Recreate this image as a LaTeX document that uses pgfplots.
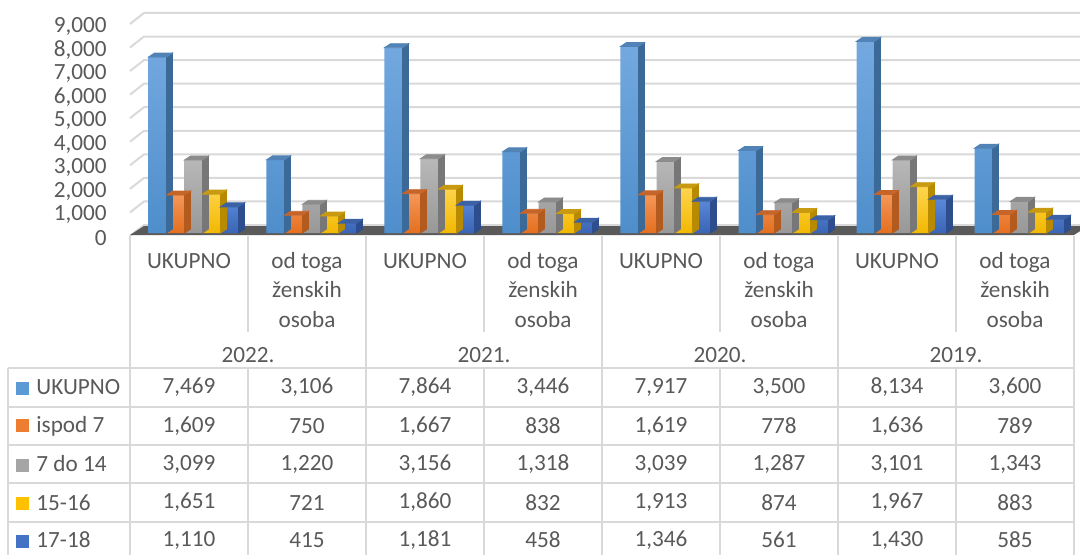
\documentclass[border=0pt]{standalone}
\usepackage{pgfplots}
\pgfplotsset{compat=1.18}
\usepackage{pgfplotstable}
\usepackage{fontspec}
\setmainfont{Carlito}
\definecolor{txt}{HTML}{595959}
\definecolor{gridc}{HTML}{D9D9D9}
\definecolor{linec}{HTML}{D9D9D9}
\definecolor{floorc}{HTML}{5A5A5A}
\definecolor{aF}{HTML}{74A9E0}\definecolor{aB}{HTML}{4E8ECB}\definecolor{aS}{HTML}{3C6A98}\definecolor{aT}{HTML}{5283B6}\definecolor{aL}{HTML}{5B9BD5}
\definecolor{bF}{HTML}{F4975A}\definecolor{bB}{HTML}{E56F1E}\definecolor{bS}{HTML}{B35A1E}\definecolor{bT}{HTML}{C6652A}\definecolor{bL}{HTML}{ED7D31}
\definecolor{cF}{HTML}{B8B8B8}\definecolor{cB}{HTML}{989898}\definecolor{cS}{HTML}{777777}\definecolor{cT}{HTML}{8C8C8C}\definecolor{cL}{HTML}{A5A5A5}
\definecolor{dF}{HTML}{FFD54F}\definecolor{dB}{HTML}{F2B800}\definecolor{dS}{HTML}{B88A00}\definecolor{dT}{HTML}{C89A12}\definecolor{dL}{HTML}{FFC000}
\definecolor{eF}{HTML}{5A88D8}\definecolor{eB}{HTML}{3A64B5}\definecolor{eS}{HTML}{2E4D8C}\definecolor{eT}{HTML}{3C62A6}\definecolor{eL}{HTML}{4472C4}

\pgfplotstableread{
x UK isp d7 d15 d17
0 7469 1609 3099 1651 1110
1 3106 750 1220 721 415
2 7864 1667 3156 1860 1181
3 3446 838 1318 832 458
4 7917 1619 3039 1913 1346
5 3500 778 1287 874 561
6 8134 1636 3101 1967 1430
7 3600 789 1343 883 585
}\data

\pgfplotsset{/pgf/number format/1000 sep={,}, /pgf/number format/assume math mode=true}
\pgfdeclareplotmark{emptymark}{}
\newdimen\hdim
\newcommand\fnt{\fontsize{11.6}{14.75}\selectfont}

% #1 column, #2 bar shift (axis units), #3 front top, #4 front bottom, #5 side, #6 top face
\newcommand\barseries[6]{%
  \addplot[ybar, bar width=0.152542, bar shift=#2, draw=none, top color=#3, bottom color=#4, forget plot]
    table[x=x, y=#1]{\data};
  \addplot[scatter, only marks, mark=emptymark, forget plot,
    visualization depends on={\thisrow{#1}\as\hval},
    scatter/@pre marker code/.code={%
      \pgfmathsetlength\hdim{0.0117778pt*\hval}%
      \fill[#5] (4.5pt,0pt) -- (7.5pt,2pt) -- (7.5pt,{2pt-\hdim}) -- (4.5pt,{-\hdim}) -- cycle;
      \fill[#6] (-4.5pt,0pt) -- (4.5pt,0pt) -- (7.5pt,2pt) -- (-1.5pt,2pt) -- cycle;
    },
    scatter/@post marker code/.code={}]
    table[x expr=\thisrow{x}+#2, y=#1]{\data};
}

% #1 column, #2 row centre (pixels)
\newcommand\tablerow[2]{%
  \addplot[draw=none, mark=none, nodes near coords, point meta=explicit,
    every node near coord/.append style={anchor=center, inner sep=0pt, text=txt, font=\fnt}]
    table[x expr=189+118*\thisrow{x}, y expr=-#2, meta=#1]{\data};
}

\begin{document}
\begin{tikzpicture}
\begin{axis}[
  at={(65pt,160.5pt)}, anchor=south west,
  x=59pt, y=0.0117778pt,
  xmin=-0.5, xmax=7.5, ymin=0, ymax=9000,
  enlargelimits=false, clip=false,
  axis line style={draw=none}, major tick length=0pt,
  ytick={0,1000,...,9000}, scaled y ticks=false,
  xtick={0,...,7},
  xticklabels={\strut UKUPNO, \strut od toga\\ženskih\\osoba, \strut UKUPNO, \strut od toga\\ženskih\\osoba, \strut UKUPNO, \strut od toga\\ženskih\\osoba, \strut UKUPNO, \strut od toga\\ženskih\\osoba},
  tick label style={text=txt, font=\fnt},
  yticklabel style={inner sep=0pt, anchor=east, xshift=-11.5pt, yshift=-2.6pt},
  xticklabel style={inner sep=0pt, anchor=north, align=center, yshift=-7pt},
]
\pgfplotsinvokeforeach{0,1000,...,9000}{
  \draw[gridc, line width=1pt] ([shift={(0pt,-1.5pt)}]axis cs:-0.5,#1) -- ([shift={(7pt,4pt)}]axis cs:-0.5,#1) -- ([shift={(7pt,4pt)}]axis cs:7.5,#1);
}
\fill[floorc] ([shift={(0pt,-1pt)}]axis cs:-0.5,0) -- ([shift={(0pt,-1pt)}]axis cs:7.5,0) -- ([shift={(7pt,3.5pt)}]axis cs:7.5,0) -- ([shift={(7pt,3.5pt)}]axis cs:-0.5,0) -- cycle;
\barseries{UK}{-0.267}{aF}{aB}{aS}{aT}
\barseries{isp}{-0.1144}{bF}{bB}{bS}{bT}
\barseries{d7}{0.0381}{cF}{cB}{cS}{cT}
\barseries{d15}{0.1907}{dF}{dB}{dS}{dT}
\barseries{d17}{0.3432}{eF}{eB}{eS}{eT}
\end{axis}

\begin{axis}[
  at={(65pt,0pt)}, anchor=south west,
  x=0.5pt, y=0.5pt,
  xmin=130, xmax=1074, ymin=-554, ymax=-236,
  hide axis, clip=false,
]
\draw[linec, line width=1pt] (axis cs:8,-368) -- (axis cs:8,-570);
\pgfplotsinvokeforeach{130,366,602,838,1074}{\draw[linec, line width=1pt] (axis cs:#1,-236) -- (axis cs:#1,-570);}
\pgfplotsinvokeforeach{248,484,720,956}{\draw[linec, line width=1pt] (axis cs:#1,-236) -- (axis cs:#1,-332); \draw[linec, line width=1pt] (axis cs:#1,-368) -- (axis cs:#1,-570);}
\pgfplotsinvokeforeach{368,407,445,483,522}{\draw[linec, line width=1pt] (axis cs:8,-#1) -- (axis cs:1074,-#1);}
\node[text=txt, font=\fnt] at (axis cs:248,-355) {2022.};
\node[text=txt, font=\fnt] at (axis cs:484,-355) {2021.};
\node[text=txt, font=\fnt] at (axis cs:720,-355) {2020.};
\node[text=txt, font=\fnt] at (axis cs:956,-355) {2019.};
\node[text=txt, font=\fnt, anchor=west, inner sep=0pt] at (axis cs:16,-387.5) {{\color{aL}\rule{6.5pt}{6.5pt}}\hspace{3.5pt}UKUPNO};
\node[text=txt, font=\fnt, anchor=west, inner sep=0pt] at (axis cs:16,-426) {{\color{bL}\rule{6.5pt}{6.5pt}}\hspace{3.5pt}ispod 7};
\node[text=txt, font=\fnt, anchor=west, inner sep=0pt] at (axis cs:16,-464) {{\color{cL}\rule{6.5pt}{6.5pt}}\hspace{3.5pt}7 do 14};
\node[text=txt, font=\fnt, anchor=west, inner sep=0pt] at (axis cs:16,-502.5) {{\color{dL}\rule{6.5pt}{6.5pt}}\hspace{3.5pt}15-16};
\node[text=txt, font=\fnt, anchor=west, inner sep=0pt] at (axis cs:16,-540) {{\color{eL}\rule{6.5pt}{6.5pt}}\hspace{3.5pt}17-18};
\tablerow{UK}{387.5}
\tablerow{isp}{426}
\tablerow{d7}{464}
\tablerow{d15}{502.5}
\tablerow{d17}{540}
\end{axis}
\pgfresetboundingbox
\path[use as bounding box] (0,0) rectangle (540pt,277pt);
\end{tikzpicture}
\end{document}
